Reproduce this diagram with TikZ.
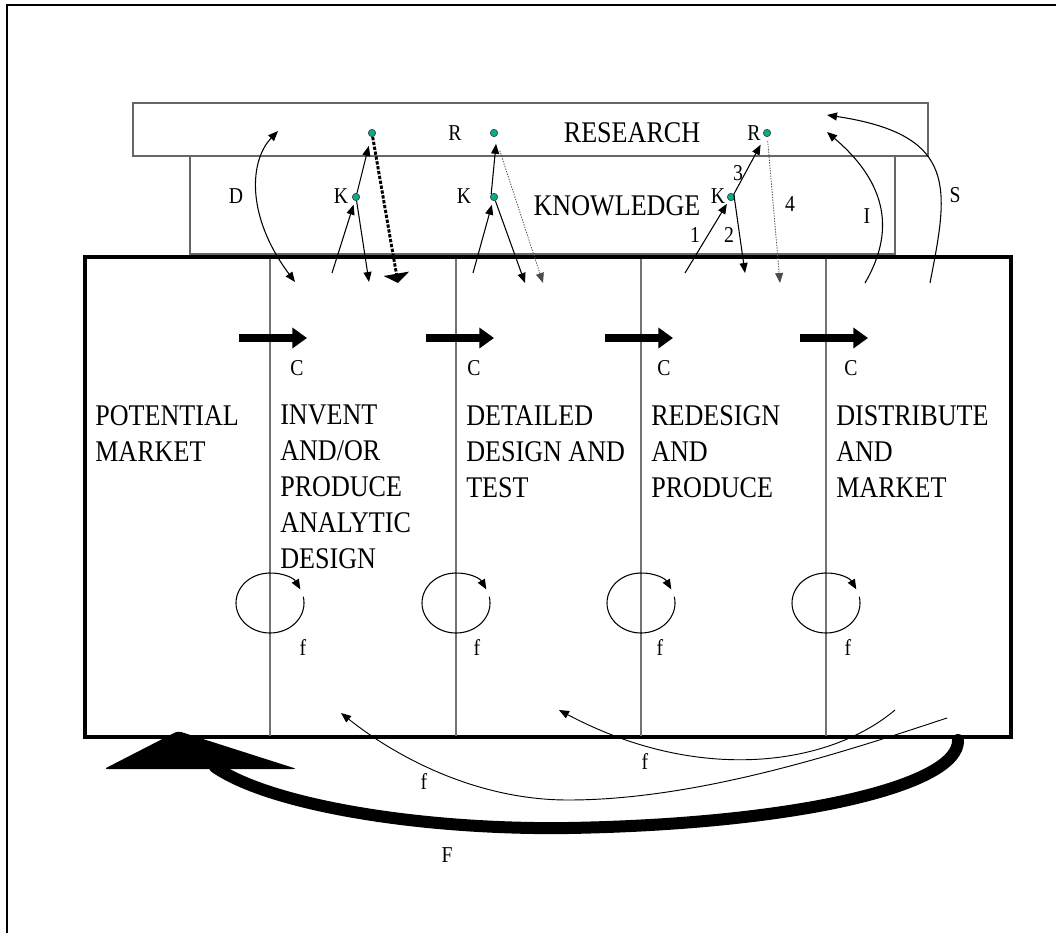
\documentclass[tikz,border=0pt]{standalone}
\usepackage{fontspec}
\setmainfont{Liberation Serif}[FakeStretch=0.87]
\usetikzlibrary{arrows.meta}

\definecolor{dotgreen}{RGB}{0,178,140}

\tikzset{
	>={Triangle[length=7.5pt,width=6pt]},
	dot/.style={circle, fill=dotgreen, draw=black!75, line width=0.5pt, inner sep=0pt, minimum size=5.5pt},
	big/.style={font=\fontsize{22.5pt}{27pt}\selectfont, inner sep=0pt},
	lbl/.style={font=\fontsize{17pt}{20pt}\selectfont, inner sep=0pt},
	stage/.style={big, align=left, anchor=north west},
	link/.style={line width=0.8pt, ->},
	push/.style={line width=5.5pt, -{Triangle[length=11pt,width=15pt]}},
	dotlink/.style={line width=0.6pt, black!70, dash pattern=on 1pt off 1pt, -{Triangle[length=7.5pt,width=6pt]}}
}

\begin{document}
\begin{tikzpicture}[x=0.75pt, y=-0.75pt]
	\useasboundingbox (0,0) rectangle (1056,932);
	\draw[line width=1.8pt] (7,940) -- (7,5) -- (1060,5);

	\draw[black!60, line width=1pt] (133,103) rectangle (928,156);
	\draw[black!60, line width=1pt, fill=white] (190,156) rectangle (895,254);
	\node[big, anchor=base] (research) at (632,142) {RESEARCH};
	\node[big, anchor=base] (knowledge) at (617,215) {KNOWLEDGE};

	\draw[line width=2.6pt] (85,257) rectangle (1011,737);
	\foreach \x in {270,456,641,826}{
		\draw[black!55, line width=0.9pt] (\x,258.5) -- (\x,735.5);
	}

	\node[stage] (potential) at (95,405) {POTENTIAL\\MARKET};
	\node[stage] (invent) at (280,405) {INVENT\\AND/OR\\PRODUCE\\ANALYTIC\\DESIGN};
	\node[stage] (detailed) at (466,405) {DETAILED\\DESIGN AND\\TEST};
	\node[stage] (redesign) at (651,405) {REDESIGN\\AND\\PRODUCE};
	\node[stage] (distribute) at (836,405) {DISTRIBUTE\\AND\\MARKET};

	\foreach \a/\b/\c [count=\i] in {239/307/297, 426/494/474, 605/673/664, 800/868/851}{
		\coordinate (cs\i) at (\a,338);
		\coordinate (ce\i) at (\b,338);
		\draw[push] (cs\i) -- (ce\i);
		\node[lbl] (c\i) at (\c,368) {C};
	}

	\foreach \x/\f [count=\i] in {270/303, 456/477, 641/660, 826/848}{
		\coordinate (lp\i) at (\x,603);
		\draw[link] (lp\i) ++(12:25.5pt and 22.5pt) arc[start angle=12, end angle=-333, x radius=25.5pt, y radius=22.5pt];
		\node[lbl] (f\i) at (\f,648) {f};
	}

	\node[dot] (R1) at (372,133) {};
	\node[dot] (K1) at (356,197) {};
	\node[dot] (R2) at (494,133) {};
	\node[dot] (K2) at (494,197) {};
	\node[dot] (R3) at (767,133) {};
	\node[dot] (K3) at (731,197) {};

	\node[lbl] (lR2) at (455,133) {R};
	\node[lbl] (lR3) at (754,133) {R};
	\node[lbl] (lK1) at (341,196) {K};
	\node[lbl] (lK2) at (464,196) {K};
	\node[lbl] (lK3) at (718,196) {K};
	\node[lbl] (lD) at (236,196) {D};
	\node[lbl] (n3) at (738,173) {3};
	\node[lbl] (n4) at (790,204) {4};
	\node[lbl] (n1) at (695,235) {1};
	\node[lbl] (n2) at (729,235) {2};
	\node[lbl] (lI) at (867,216) {I};
	\node[lbl] (lS) at (955,195) {S};
	\node[lbl] (lf5) at (424,782) {f};
	\node[lbl] (lf6) at (645,762) {f};
	\node[lbl] (lF) at (447,855) {F};

	\coordinate (k1up) at (332,273);
	\coordinate (k1dn) at (369,282);
	\coordinate (r1dn) at (398,283);
	\coordinate (k2up) at (473,273);
	\coordinate (k2dn) at (525,283);
	\coordinate (r2dn) at (543,283);
	\coordinate (k3up) at (685,273);
	\coordinate (k3dn) at (745,273);
	\coordinate (r3dn) at (780,283);
	\coordinate (dtop) at (278,131);
	\coordinate (dbot) at (295,282);
	\coordinate (itop) at (827,132);
	\coordinate (ibot) at (865,283);
	\coordinate (stop) at (827,115);
	\coordinate (sbot) at (930,283);

	\draw[link, shorten >=3pt] (k1up) -- (K1);
	\draw[link, shorten >=7pt] (K1) -- (R1);
	\draw[link] (K1) -- (k1dn);
	\draw[line width=2.2pt, dash pattern=on 2.5pt off 1.2pt, -{Triangle[length=7pt,width=19pt]}] (R1) -- (r1dn);

	\draw[link, shorten >=3pt] (k2up) -- (K2);
	\draw[link, shorten >=6pt] (K2.north west) -- (R2.south east);
	\draw[link] (K2) -- (k2dn);
	\draw[dotlink, shorten <=11pt] (R2) -- (r2dn);

	\draw[link, shorten >=3pt] (k3up) -- (K3);
	\draw[link, shorten >=7pt] (K3.north east) -- (R3);
	\draw[link] (K3.north east) -- (k3dn);
	\draw[dotlink, shorten <=3pt] (R3) -- (r3dn);

	\draw[link, <->] (dtop) .. controls (250,160) and (245,215) .. (dbot);
	\draw[link] (ibot) .. controls (890,240) and (895,190) .. (itop);
	\draw[link] (sbot) .. controls (948,190) and (960,135) .. (stop);

	\coordinate (fa0) at (947,718);
	\coordinate (fa1) at (341,713);
	\coordinate (fb0) at (895,710);
	\coordinate (fb1) at (559,710);
	\draw[link, line width=0.7pt] (fa0) .. controls (850,750) and (700,800) .. (568,800) .. controls (480,800) and (400,760) .. (fa1);
	\draw[link, line width=0.7pt] (fb0) .. controls (830,765) and (700,785) .. (fb1);

	\coordinate (Fs) at (958,740);
	\coordinate (Fe) at (215,767);
	\draw[line width=9pt, line cap=round] (Fs) .. controls (960,785) and (800,824) .. (568,828) .. controls (420,830) and (270,805) .. (Fe);
	\fill[rounded corners=2.5pt] (178,731) -- (297,769) -- (104,769) -- cycle;
\end{tikzpicture}
\end{document}
